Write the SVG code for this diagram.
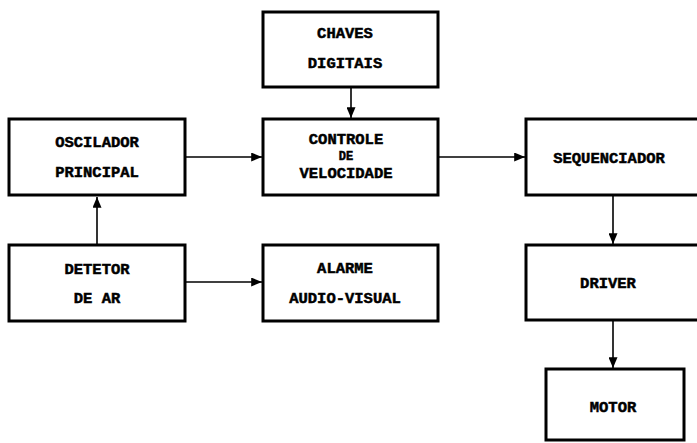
<svg xmlns="http://www.w3.org/2000/svg" width="697" height="443" viewBox="0 0 697 443">
<style>
.box{fill:#fff;stroke:#000;stroke-width:3}
.t{font-family:"Liberation Mono","DejaVu Sans Mono",monospace;font-weight:bold;font-size:15.5px;fill:#000;stroke:#000;stroke-width:0.5;text-anchor:middle}
.s{font-size:12px}
.c{stroke:#000;stroke-width:1.6;fill:none}
</style>
<defs>
<marker id="ah" viewBox="0 0 12 10" refX="12" refY="5" markerWidth="12" markerHeight="9" markerUnits="userSpaceOnUse" orient="auto">
<path d="M0,0 L12,5 L0,10 Z" fill="#000"/>
</marker>
</defs>
<rect width="697" height="443" fill="#fff"/>
<g id="connectors">
<line class="c" x1="186" y1="157" x2="262" y2="157" marker-end="url(#ah)"/>
<line class="c" x1="439" y1="157" x2="525" y2="157" marker-end="url(#ah)"/>
<line class="c" x1="351" y1="88" x2="351" y2="118" marker-end="url(#ah)"/>
<line class="c" x1="186" y1="282" x2="262" y2="282" marker-end="url(#ah)"/>
<line class="c" x1="97" y1="244" x2="97" y2="197" marker-end="url(#ah)"/>
<line class="c" x1="613" y1="196" x2="613" y2="244" marker-end="url(#ah)"/>
<line class="c" x1="613" y1="321" x2="613" y2="368" marker-end="url(#ah)"/>
</g>
<g id="oscilador">
<rect class="box" x="9" y="119" width="176" height="76"/>
<text class="t" x="97" y="147">OSCILADOR</text>
<text class="t" x="97" y="177">PRINCIPAL</text>
</g>
<g id="chaves">
<rect class="box" x="263" y="12" width="175" height="75"/>
<text class="t" x="345" y="38">CHAVES</text>
<text class="t" x="345" y="68">DIGITAIS</text>
</g>
<g id="controle">
<rect class="box" x="263" y="119" width="175" height="76"/>
<text class="t" x="346" y="144">CONTROLE</text>
<text class="t s" x="346" y="160">DE</text>
<text class="t" x="346" y="178">VELOCIDADE</text>
</g>
<g id="sequenciador">
<rect class="box" x="526" y="119" width="185" height="76"/>
<text class="t" x="609" y="163">SEQUENCIADOR</text>
</g>
<g id="detetor">
<rect class="box" x="9" y="245" width="176" height="76"/>
<text class="t" x="97" y="274">DETETOR</text>
<text class="t" x="97" y="303">DE AR</text>
</g>
<g id="alarme">
<rect class="box" x="263" y="245" width="175" height="76"/>
<text class="t" x="345" y="273">ALARME</text>
<text class="t" x="345" y="303">AUDIO-VISUAL</text>
</g>
<g id="driver">
<rect class="box" x="526" y="245" width="185" height="75"/>
<text class="t" x="608" y="288">DRIVER</text>
</g>
<g id="motor">
<rect class="box" x="546" y="369" width="138" height="71"/>
<text class="t" x="613" y="412">MOTOR</text>
</g>
</svg>
